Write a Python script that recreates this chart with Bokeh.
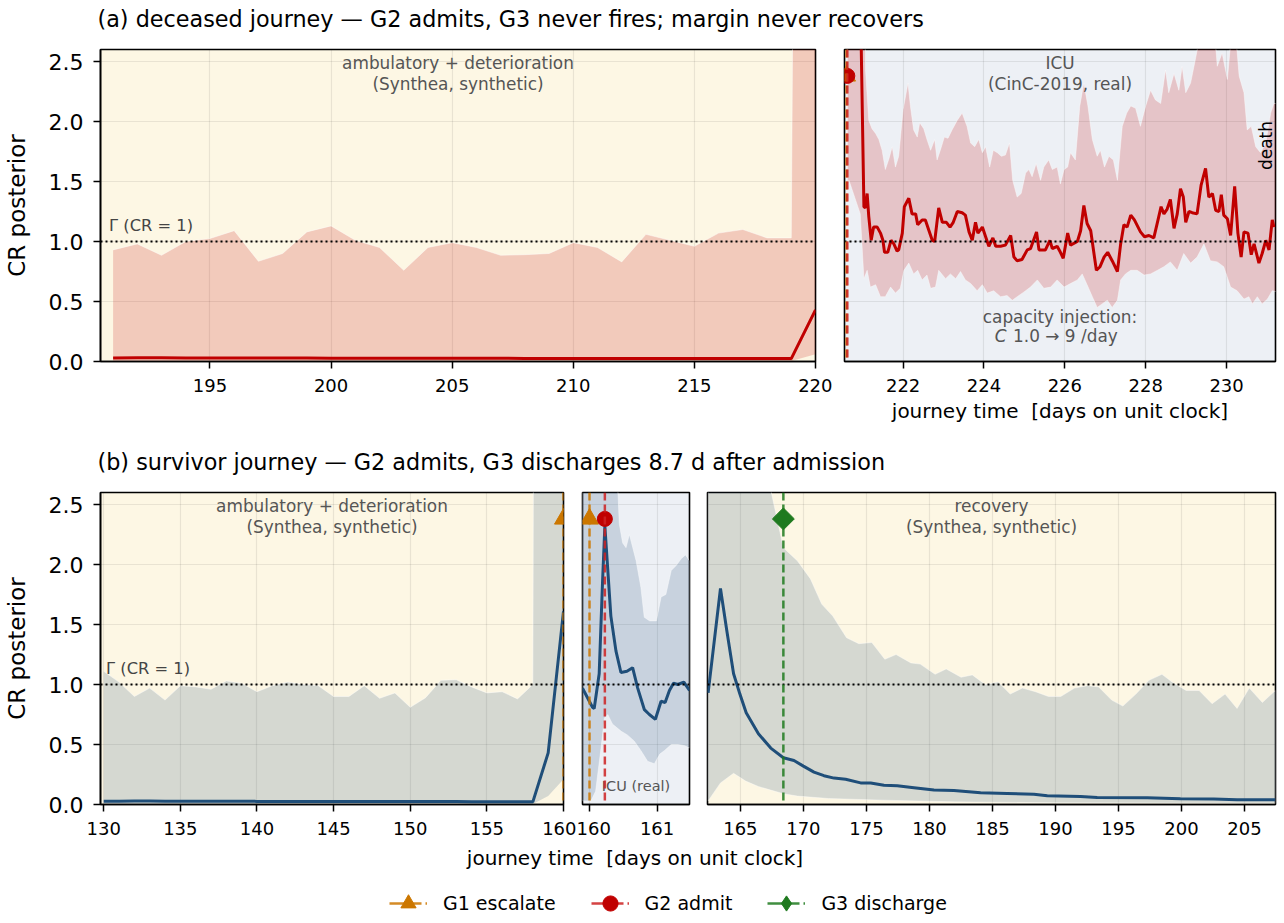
from math import pi
from bokeh.plotting import figure
from bokeh.layouts import column, row
from bokeh.models import Range1d, FixedTicker, Span, Legend, LegendItem, PrintfTickFormatter
from bokeh.core.properties import value
from bokeh.embed import file_html
from bokeh.resources import INLINE

# ------------------------------------------------------------------ data
TITLE_A = "(a) deceased journey \u2014 G2 admits, G3 never fires; margin never recovers"
TITLE_B = "(b) survivor journey \u2014 G2 admits, G3 discharges 8.7 d after admission"
X_LABEL = "journey time \u00a0[days on unit clock]"
Y_LABEL = "CR posterior"
Y_TICKS = [0.0, 0.5, 1.0, 1.5, 2.0, 2.5]
GAMMA = 1.0

A_SYN_TICKS = [195, 200, 205, 210, 215, 220]
A_ICU_TICKS = [222, 224, 226, 228, 230]
B_SYN_TICKS = [130, 135, 140, 145, 150, 155, 160]
B_ICU_TICKS = [160, 161]
B_REC_TICKS = [165, 170, 175, 180, 185, 190, 195, 200, 205]

# (a) deceased — synthetic ambulatory phase, daily
A_SYN_DAY = [191, 192, 193, 194, 195, 196, 197, 198, 199, 200,
             201, 202, 203, 204, 205, 206, 207, 208, 209, 210,
             211, 212, 213, 214, 215, 216, 217, 218, 219, 220]
A_SYN_MED = [0.030, 0.031, 0.031, 0.030, 0.030, 0.029, 0.029, 0.029, 0.030, 0.028,
             0.028, 0.028, 0.027, 0.027, 0.027, 0.027, 0.027, 0.026, 0.026, 0.026,
             0.025, 0.025, 0.025, 0.025, 0.024, 0.024, 0.024, 0.024, 0.024, 0.43]
A_SYN_HI = [0.93, 0.98, 0.885, 1.00, 1.025, 1.09, 0.835, 0.90, 1.08, 1.13,
            1.01, 0.95, 0.76, 0.95, 0.99, 0.95, 0.885, 0.89, 0.90, 0.99,
            0.95, 0.83, 1.06, 1.01, 0.96, 1.07, 1.10, 1.03, 1.03, 32.0]
A_SYN_LO = [0.004, 0.004, 0.004, 0.004, 0.004, 0.004, 0.004, 0.004, 0.004, 0.004,
            0.004, 0.004, 0.004, 0.004, 0.004, 0.004, 0.004, 0.004, 0.004, 0.004,
            0.004, 0.004, 0.004, 0.004, 0.004, 0.004, 0.004, 0.004, 0.004, 0.06]

# (a) deceased — ICU phase (CinC-2019), (day, CR)
A_ICU_MED = [
    (220.62, 5.2), (220.95, 2.9), (221.03, 1.29), (221.07, 1.28), (221.11, 1.40),
    (221.15, 1.21), (221.21, 1.01), (221.27, 1.12), (221.36, 1.12), (221.44, 1.07),
    (221.50, 1.01), (221.54, 0.91), (221.62, 0.91), (221.70, 1.01), (221.77, 0.98),
    (221.85, 0.92), (221.89, 0.93), (221.98, 1.07), (222.03, 1.29), (222.14, 1.36),
    (222.22, 1.23), (222.31, 1.23), (222.36, 1.14), (222.47, 1.18), (222.55, 1.18),
    (222.64, 1.09), (222.72, 1.01), (222.78, 1.00), (222.88, 1.28), (222.97, 1.16),
    (223.07, 1.16), (223.16, 1.12), (223.24, 1.16), (223.34, 1.25), (223.46, 1.24),
    (223.54, 1.22), (223.63, 1.08), (223.71, 1.01), (223.79, 1.16), (223.85, 1.07),
    (223.96, 1.12), (224.04, 1.04), (224.12, 0.96), (224.22, 1.03), (224.29, 0.96),
    (224.41, 0.96), (224.53, 0.97), (224.66, 1.05), (224.74, 0.87), (224.82, 0.84),
    (224.94, 0.85), (225.07, 0.93), (225.15, 0.94), (225.30, 1.08), (225.36, 0.93),
    (225.52, 0.93), (225.63, 1.01), (225.69, 0.94), (225.81, 0.96), (225.89, 0.91),
    (225.96, 0.86), (226.07, 1.07), (226.14, 0.97), (226.31, 1.00), (226.39, 1.09),
    (226.47, 1.30), (226.55, 1.15), (226.64, 1.09), (226.72, 0.90), (226.78, 0.76),
    (226.87, 0.79), (226.97, 0.87), (227.06, 0.91), (227.17, 0.84), (227.30, 0.75),
    (227.38, 0.98), (227.46, 1.14), (227.54, 1.12), (227.63, 1.22), (227.72, 1.18),
    (227.87, 1.08), (227.97, 1.04), (228.08, 1.05), (228.20, 1.03), (228.29, 1.16),
    (228.38, 1.29), (228.45, 1.23), (228.53, 1.27), (228.61, 1.35), (228.70, 1.11),
    (228.78, 1.23), (228.86, 1.44), (228.93, 1.37), (228.99, 1.16), (229.07, 1.25),
    (229.15, 1.24), (229.27, 1.23), (229.37, 1.47), (229.48, 1.61), (229.56, 1.37),
    (229.65, 1.40), (229.73, 1.26), (229.81, 1.25), (229.87, 1.39), (229.93, 1.22),
    (230.02, 1.19), (230.10, 1.05), (230.20, 1.46), (230.28, 1.07), (230.36, 0.87),
    (230.43, 1.08), (230.53, 1.07), (230.61, 0.89), (230.68, 0.98), (230.80, 0.82),
    (230.88, 0.90), (230.97, 1.01), (231.05, 0.93), (231.13, 1.18), (231.17, 1.12),
]
A_ICU_UPPER = [
    (220.62, 8.0), (221.00, 6.0), (221.07, 2.43), (221.15, 2.01), (221.23, 1.94),
    (221.32, 1.90), (221.40, 1.85), (221.48, 1.76), (221.56, 1.60), (221.65, 1.69),
    (221.73, 1.79), (221.81, 1.62), (221.89, 1.71), (222.00, 2.10), (222.12, 2.32),
    (222.18, 2.13), (222.26, 1.93), (222.35, 1.87), (222.41, 1.99), (222.51, 1.94),
    (222.59, 1.85), (222.68, 1.76), (222.78, 1.85), (222.84, 1.68), (222.92, 1.76),
    (223.02, 1.87), (223.11, 1.86), (223.21, 1.93), (223.34, 2.01), (223.46, 2.07),
    (223.58, 1.96), (223.67, 1.82), (223.77, 1.79), (223.87, 1.85), (223.96, 1.74),
    (224.04, 1.79), (224.14, 1.62), (224.23, 1.76), (224.33, 1.74), (224.43, 1.71),
    (224.53, 1.72), (224.63, 1.82), (224.71, 1.51), (224.82, 1.37), (224.92, 1.40),
    (225.03, 1.57), (225.11, 1.60), (225.19, 1.54), (225.29, 1.65), (225.40, 1.51),
    (225.48, 1.62), (225.60, 1.68), (225.69, 1.60), (225.81, 1.62), (225.89, 1.48),
    (225.98, 1.60), (226.07, 1.62), (226.14, 1.74), (226.26, 1.68), (226.37, 2.13),
    (226.47, 2.32), (226.57, 2.13), (226.68, 1.85), (226.80, 1.71), (226.88, 1.76),
    (226.98, 1.62), (227.09, 1.71), (227.20, 1.68), (227.30, 1.51), (227.42, 1.96),
    (227.53, 2.07), (227.63, 2.13), (227.75, 2.11), (227.87, 1.96), (228.00, 2.13),
    (228.12, 2.26), (228.24, 2.18), (228.37, 2.15), (228.49, 2.43), (228.57, 2.24),
    (228.70, 2.40), (228.82, 2.26), (228.90, 2.46), (228.99, 2.24), (229.11, 2.32),
    (229.23, 2.52), (229.36, 2.75), (229.52, 2.90), (229.69, 2.80), (229.77, 2.46),
    (229.89, 2.57), (230.02, 2.35), (230.14, 2.80), (230.22, 2.75), (230.31, 2.38),
    (230.43, 2.24), (230.51, 1.93), (230.61, 1.96), (230.72, 1.79), (230.84, 1.74),
    (230.97, 1.82), (231.09, 2.07), (231.17, 2.15), (231.25, 2.15),
]
A_ICU_LOWER = [
    (220.62, 1.45), (220.66, 1.51), (220.94, 1.23), (221.03, 0.69), (221.11, 0.76),
    (221.19, 0.62), (221.32, 0.64), (221.44, 0.54), (221.56, 0.54), (221.69, 0.62),
    (221.81, 0.57), (221.93, 0.61), (222.02, 0.76), (222.14, 0.82), (222.26, 0.73),
    (222.36, 0.76), (222.47, 0.68), (222.59, 0.72), (222.68, 0.61), (222.80, 0.62),
    (222.88, 0.76), (223.05, 0.69), (223.17, 0.73), (223.30, 0.69), (223.42, 0.75),
    (223.54, 0.68), (223.67, 0.65), (223.83, 0.59), (223.96, 0.64), (224.08, 0.57),
    (224.24, 0.59), (224.41, 0.54), (224.57, 0.55), (224.70, 0.51), (224.82, 0.54),
    (224.99, 0.58), (225.15, 0.62), (225.32, 0.68), (225.48, 0.61), (225.65, 0.62),
    (225.81, 0.68), (225.98, 0.62), (226.14, 0.65), (226.31, 0.68), (226.43, 0.73),
    (226.55, 0.64), (226.68, 0.54), (226.80, 0.45), (226.92, 0.48), (227.05, 0.51),
    (227.17, 0.45), (227.30, 0.51), (227.38, 0.68), (227.50, 0.73), (227.63, 0.76),
    (227.79, 0.76), (227.96, 0.72), (228.12, 0.73), (228.29, 0.76), (228.45, 0.79),
    (228.61, 0.83), (228.78, 0.76), (228.94, 0.90), (229.11, 0.82), (229.27, 0.87),
    (229.44, 0.98), (229.60, 0.84), (229.77, 0.83), (229.93, 0.79), (230.10, 0.62),
    (230.26, 0.59), (230.43, 0.52), (230.55, 0.54), (230.64, 0.48), (230.76, 0.54),
    (230.88, 0.48), (231.01, 0.52), (231.13, 0.59), (231.25, 0.58),
]

# (b) survivor — synthetic ambulatory phase, daily
B_SYN_DAY = [130, 131, 132, 133, 134, 135, 136, 137, 138, 139,
             140, 141, 142, 143, 144, 145, 146, 147, 148, 149,
             150, 151, 152, 153, 154, 155, 156, 157, 158, 159, 160]
B_SYN_MED = [0.028, 0.028, 0.029, 0.029, 0.028, 0.028, 0.028, 0.027, 0.027, 0.027,
             0.026, 0.026, 0.026, 0.026, 0.026, 0.025, 0.025, 0.025, 0.025, 0.024,
             0.024, 0.024, 0.024, 0.024, 0.023, 0.023, 0.023, 0.022, 0.022, 0.43, 1.61]
B_SYN_HI = [1.11, 1.02, 0.90, 0.97, 0.87, 0.99, 0.98, 0.96, 1.03, 1.01,
            0.94, 0.99, 1.02, 1.00, 0.99, 0.90, 0.90, 0.99, 0.885, 0.93,
            0.81, 0.89, 1.035, 1.04, 0.98, 0.93, 0.94, 0.88, 1.00, 50.0, 50.0]
B_SYN_LO = [0.005, 0.005, 0.005, 0.005, 0.005, 0.005, 0.005, 0.005, 0.005, 0.005,
            0.005, 0.005, 0.005, 0.005, 0.005, 0.005, 0.005, 0.005, 0.005, 0.005,
            0.005, 0.005, 0.005, 0.005, 0.005, 0.005, 0.005, 0.005, 0.005, 0.07, 0.21]

# (b) survivor — ICU phase (real)
B_ICU_MED = [
    (159.896, 0.97), (160.044, 0.81), (160.069, 0.80), (160.143, 1.09), (160.193, 1.86),
    (160.227, 2.32), (160.316, 1.57), (160.391, 1.28), (160.465, 1.10), (160.554, 1.11),
    (160.638, 1.14), (160.713, 0.97), (160.812, 0.79), (160.886, 0.75), (160.975, 0.71),
    (161.059, 0.86), (161.119, 0.85), (161.183, 0.95), (161.243, 1.01), (161.307, 1.00),
    (161.396, 1.02), (161.480, 0.95),
]
B_ICU_UPPER = [
    (159.896, 6.0), (160.30, 4.0), (160.41, 2.75), (160.44, 2.34), (160.49, 2.18),
    (160.54, 2.14), (160.59, 2.25), (160.64, 2.14), (160.69, 2.03), (160.76, 1.81),
    (160.81, 1.56), (160.89, 1.53), (160.99, 1.53), (161.06, 1.73), (161.13, 1.75),
    (161.21, 1.95), (161.28, 1.99), (161.36, 2.05), (161.42, 2.08), (161.48, 2.03),
]
B_ICU_LOWER = [
    (159.896, 0.03), (160.02, 0.03), (160.09, 0.11), (160.17, 0.47), (160.22, 0.72),
    (160.27, 0.75), (160.34, 0.67), (160.47, 0.61), (160.56, 0.58), (160.66, 0.53),
    (160.76, 0.45), (160.86, 0.36), (160.96, 0.34), (161.04, 0.42), (161.11, 0.45),
    (161.21, 0.50), (161.31, 0.50), (161.41, 0.49), (161.48, 0.47),
]

# (b) survivor — recovery phase (synthetic)
B_REC_MED = [
    (162.44, 0.93), (163.42, 1.80), (163.92, 1.45), (164.46, 1.09), (164.96, 0.92),
    (165.46, 0.765), (166.43, 0.59), (167.41, 0.47), (168.41, 0.39), (169.25, 0.367),
    (170.00, 0.32), (170.84, 0.27), (171.63, 0.24), (172.43, 0.22), (173.35, 0.21),
    (174.54, 0.18), (175.34, 0.18), (176.39, 0.16), (177.45, 0.156), (178.77, 0.14),
    (180.36, 0.12), (181.94, 0.117), (184.06, 0.097), (186.17, 0.092), (188.29, 0.086),
    (189.35, 0.072), (191.99, 0.067), (193.31, 0.058), (197.28, 0.056), (199.92, 0.047),
    (202.56, 0.045), (204.41, 0.039), (207.45, 0.039),
]
B_REC_UPPER = [
    (162.44, 8.0), (164.40, 5.5), (166.43, 3.3), (167.41, 2.62), (168.41, 2.14),
    (169.53, 2.03), (170.56, 1.88), (171.45, 1.67), (172.33, 1.57), (173.42, 1.39),
    (174.40, 1.34), (175.43, 1.35), (176.46, 1.21), (177.35, 1.25), (178.53, 1.18),
    (179.27, 1.17), (180.45, 1.085), (181.33, 1.13), (182.51, 1.06), (183.40, 1.08),
    (184.43, 1.00), (185.46, 1.02), (186.41, 0.92), (187.38, 0.97), (188.41, 0.94),
    (189.45, 0.90), (190.42, 0.90), (191.51, 0.97), (192.54, 0.99), (193.43, 0.98),
    (194.46, 0.87), (195.35, 0.82), (196.38, 0.92), (197.42, 1.035), (198.45, 1.085),
    (199.33, 1.015), (200.37, 0.95), (201.40, 0.95), (202.43, 0.84), (203.46, 0.92),
    (204.41, 0.80), (205.38, 0.97), (206.42, 0.85), (207.45, 0.95),
]
B_REC_LOWER = [
    (162.44, 0.03), (163.42, 0.18), (164.46, 0.26), (165.42, 0.195), (166.43, 0.15),
    (167.41, 0.12), (168.41, 0.09), (169.53, 0.07), (172.00, 0.05), (176.40, 0.036),
    (182.00, 0.022), (190.00, 0.015), (200.00, 0.012), (207.45, 0.01),
]

# gate events (day)
A_G1 = 220.60
A_G2 = 220.62
B_G1 = 160.00
B_G2 = 160.227
B_G3 = 168.41
MARK_Y = 2.38

LEGEND_LABELS = ["G1 escalate", "G2 admit", "G3 discharge"]

# ------------------------------------------------------------------ style
FONT = "DejaVu Sans"
CREAM = "#fdf7e4"
ICU_BG = "#edf0f5"
RED = "#c00000"
BLUE = "#1f4e79"
ORANGE = "#cc7700"
GREEN = "#1f7a1f"
REDLINE = "#cc2222"
GTXT = "#555555"
Y_MIN, Y_MAX = 0.0, 2.6
TOTAL_W = 1280
NAN = float("nan")
ANN = "16.9px"


def make_panel(width, height, xr, ticks, bl, br, bt, bb, bg, show_y):
    p = figure(width=width, height=height, x_range=Range1d(xr[0], xr[1]),
               y_range=Range1d(Y_MIN, Y_MAX), output_backend="svg",
               toolbar_location=None, min_border_left=bl, min_border_right=br,
               min_border_top=bt, min_border_bottom=bb)
    p.background_fill_color = bg
    p.border_fill_color = "white"
    p.outline_line_color = "black"
    p.outline_line_width = 1.6
    p.xaxis.ticker = FixedTicker(ticks=ticks)
    p.xgrid.ticker = FixedTicker(ticks=ticks)
    p.yaxis.ticker = FixedTicker(ticks=Y_TICKS)
    p.ygrid.ticker = FixedTicker(ticks=Y_TICKS)
    p.yaxis.formatter = PrintfTickFormatter(format="%.1f")
    for ax in (p.xaxis[0], p.yaxis[0]):
        ax.axis_line_color = "black"
        ax.axis_line_width = 1.6
        ax.major_tick_line_color = "black"
        ax.major_tick_line_width = 1.5
        ax.major_tick_out = 7
        ax.major_tick_in = 0
        ax.minor_tick_line_color = None
        ax.major_label_text_font = FONT
        ax.major_label_text_color = "black"
        ax.axis_label_text_font = FONT
        ax.axis_label_text_font_style = "normal"
        ax.axis_label_text_color = "black"
    p.xaxis.major_label_text_font_size = "18px"
    p.yaxis.major_label_text_font_size = "22px"
    p.xaxis.major_label_standoff = 10
    p.yaxis.major_label_standoff = 10
    p.grid.grid_line_color = "black"
    p.grid.grid_line_alpha = 0.08
    p.grid.grid_line_width = 1.2
    if show_y:
        p.yaxis.axis_label = Y_LABEL
        p.yaxis.axis_label_text_font_size = "23px"
        p.yaxis.axis_label_standoff = 16
    else:
        p.yaxis.visible = False
    p.add_layout(Span(location=GAMMA, dimension="width", line_color="black",
                      line_dash="2 3", line_width=2))
    return p


def txt(p, x, y, s, size, color=GTXT, align="center", baseline="middle",
        style="normal", angle=0.0):
    p.text(x=[x], y=[y], text=[s], text_font=value(FONT), text_font_size=size,
           text_color=color, text_align=align, text_baseline=baseline,
           text_font_style=style, angle=angle)


def band_area(p, xs, lo, hi, color):
    p.varea(x=xs, y1=lo, y2=hi, fill_color=color, fill_alpha=0.18)
    p.line(xs, hi, line_color="white", line_alpha=0.45, line_width=1)


def band_patch(p, upper, lower, color):
    ux = [t for t, _ in upper]
    uy = [v for _, v in upper]
    lx = [t for t, _ in lower]
    ly = [v for _, v in lower]
    p.patch(ux + lx[::-1], uy + ly[::-1], fill_color=color, fill_alpha=0.18,
            line_color="white", line_alpha=0.4, line_width=1)


def med_line(p, pts, color):
    p.line([t for t, _ in pts], [v for _, v in pts], line_color=color, line_width=3)


def event(p, t, color, marker, size, fill, angle=0.0):
    p.add_layout(Span(location=t, dimension="height", line_color=color,
                      line_dash="8 4", line_width=2.5, line_alpha=0.85))
    p.scatter([t], [MARK_Y], marker=marker, size=size, fill_color=fill,
              line_color=fill, angle=angle)


def strip(height):
    s = figure(width=TOTAL_W, height=height, x_range=Range1d(0, TOTAL_W),
               y_range=Range1d(height, 0), output_backend="svg",
               toolbar_location=None, min_border=0, x_axis_type=None, y_axis_type=None)
    s.outline_line_color = None
    s.background_fill_color = "white"
    s.border_fill_color = "white"
    return s


def annot_top(p, xr, line1, line2):
    xc = 0.5 * (xr[0] + xr[1])
    txt(p, xc, 2.485, line1, ANN)
    txt(p, xc, 2.315, line2, ANN)


# ------------------------------------------------------------------ (a)
A_SYN_XR = (190.48, 220.0)
A_ICU_XR = (220.55, 231.21)

a1 = make_panel(832, 405, A_SYN_XR, A_SYN_TICKS, 98, 17, 11, 82, CREAM, True)
band_area(a1, A_SYN_DAY, A_SYN_LO, A_SYN_HI, RED)
a1.line(A_SYN_DAY, A_SYN_MED, line_color=RED, line_width=3)
annot_top(a1, A_SYN_XR, "ambulatory + deterioration", "(Synthea, synthetic)")
txt(a1, A_SYN_XR[0] + 0.012 * (A_SYN_XR[1] - A_SYN_XR[0]), 1.135, "\u0393 (CR = 1)",
    "16.3px", color="#444444", align="left")

a2 = make_panel(448, 405, A_ICU_XR, A_ICU_TICKS, 12, 5, 11, 82, ICU_BG, False)
a2.xaxis.axis_label = X_LABEL
a2.xaxis.axis_label_text_font_size = "20px"
a2.xaxis.axis_label_standoff = 4
band_patch(a2, A_ICU_UPPER, A_ICU_LOWER, RED)
med_line(a2, A_ICU_MED, RED)
annot_top(a2, A_ICU_XR, "ICU", "(CinC-2019, real)")
txt(a2, 0.5 * (A_ICU_XR[0] + A_ICU_XR[1]), 0.375, "capacity injection:", ANN)
txt(a2, 224.56, 0.215, "C", ANN, align="right", style="italic")
txt(a2, 224.72, 0.215, "1.0 \u2192 9 /day", ANN, align="left")
txt(a2, 230.97, 1.80, "death", "17px", color="black", angle=pi / 2)
event(a2, A_G1, ORANGE, "triangle", 18, ORANGE)
event(a2, A_G2, REDLINE, "circle", 15, RED)

# ------------------------------------------------------------------ (b)
B_SYN_XR = (129.79, 160.0)
B_ICU_XR = (159.896, 161.48)
B_REC_XR = (162.39, 207.46)

b1 = make_panel(576, 366, B_SYN_XR, B_SYN_TICKS, 98, 13, 14, 40, CREAM, True)
band_area(b1, B_SYN_DAY, B_SYN_LO, B_SYN_HI, BLUE)
b1.line(B_SYN_DAY, B_SYN_MED, line_color=BLUE, line_width=3)
annot_top(b1, B_SYN_XR, "ambulatory + deterioration", "(Synthea, synthetic)")
txt(b1, B_SYN_XR[0] + 0.012 * (B_SYN_XR[1] - B_SYN_XR[0]), 1.13, "\u0393 (CR = 1)",
    "16.3px", color="#444444", align="left")
event(b1, B_G1, ORANGE, "triangle", 18, ORANGE)

b2 = make_panel(122, 366, B_ICU_XR, B_ICU_TICKS, 6, 9, 14, 40, ICU_BG, False)
band_patch(b2, B_ICU_UPPER, B_ICU_LOWER, BLUE)
med_line(b2, B_ICU_MED, BLUE)
txt(b2, 0.5 * (B_ICU_XR[0] + B_ICU_XR[1]), 0.153, "ICU (real)", "14.5px")
event(b2, B_G1, ORANGE, "triangle", 18, ORANGE)
event(b2, B_G2, REDLINE, "circle", 15, RED)

b3 = make_panel(582, 366, B_REC_XR, B_REC_TICKS, 9, 5, 14, 40, CREAM, False)
band_patch(b3, B_REC_UPPER, B_REC_LOWER, BLUE)
med_line(b3, B_REC_MED, BLUE)
annot_top(b3, B_REC_XR, "recovery", "(Synthea, synthetic)")
event(b3, B_G3, GREEN, "square", 15.5, GREEN, angle=pi / 4)

# ------------------------------------------------------------------ strips
ta = strip(38)
txt(ta, 97, 18, TITLE_A, "22.3px", color="black", align="left")
tb = strip(35)
txt(tb, 97, 18, TITLE_B, "22.3px", color="black", align="left")

bot = strip(71)
txt(bot, 634.5, 13, X_LABEL, "20px", color="black")
l1 = bot.line(x=[NAN], y=[NAN], line_color=ORANGE, line_dash="32 4", line_width=2.7, line_alpha=0.85)
m1 = bot.scatter(x=[NAN], y=[NAN], marker="triangle", fill_color=ORANGE, line_color=ORANGE)
l2 = bot.line(x=[NAN], y=[NAN], line_color=REDLINE, line_dash="32 4", line_width=2.7, line_alpha=0.85)
m2 = bot.scatter(x=[NAN], y=[NAN], marker="circle", fill_color=RED, line_color=RED)
l3 = bot.line(x=[NAN], y=[NAN], line_color=GREEN, line_dash="32 4", line_width=2.7, line_alpha=0.85)
m3 = bot.scatter(x=[NAN], y=[NAN], marker="diamond", fill_color=GREEN, line_color=GREEN)
leg = Legend(items=[LegendItem(label=LEGEND_LABELS[0], renderers=[l1, m1]),
                    LegendItem(label=LEGEND_LABELS[1], renderers=[l2, m2]),
                    LegendItem(label=LEGEND_LABELS[2], renderers=[l3, m3])],
             orientation="horizontal", location=(389, -7), padding=0, margin=0,
             spacing=35, glyph_width=38, glyph_height=38, label_height=38,
             label_standoff=16, label_text_font=FONT, label_text_font_size="19px",
             label_text_color="black", border_line_color=None,
             background_fill_alpha=0.0)
bot.add_layout(leg)

layout = column(ta, row(a1, a2), tb, row(b1, b2, b3), bot)
open("out.html", "w").write(file_html(layout, INLINE))
